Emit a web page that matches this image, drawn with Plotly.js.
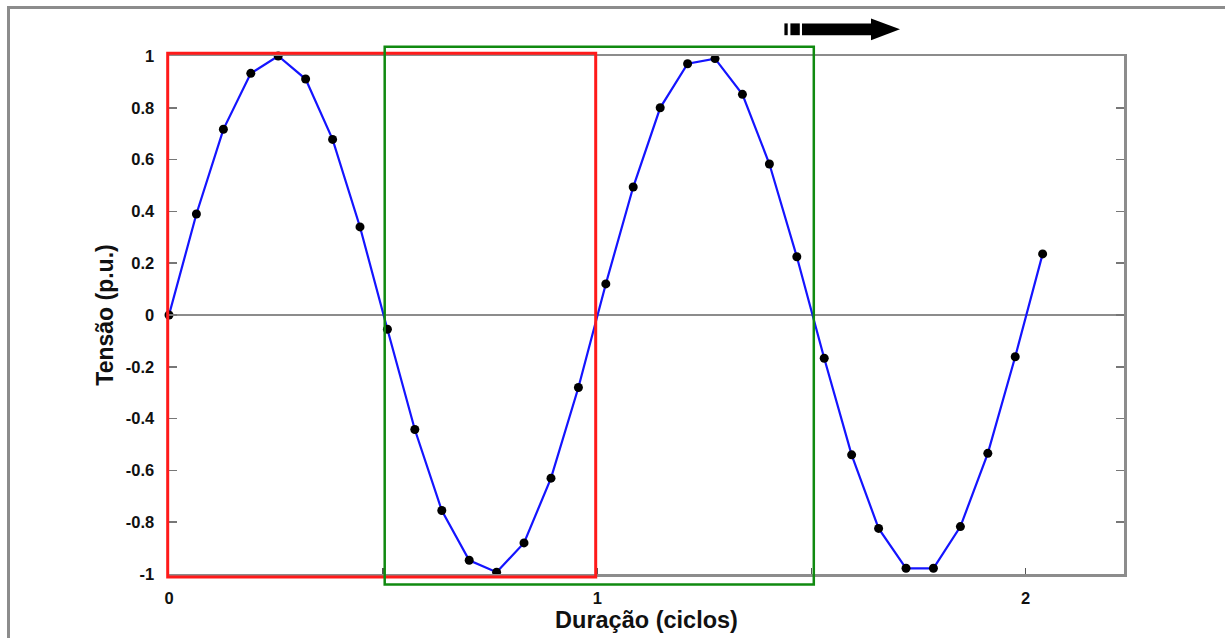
<!DOCTYPE html>
<html>
<head>
<meta charset="utf-8">
<script src="https://cdn.plot.ly/plotly-3.0.1.min.js"></script>
<style>
html,body{margin:0;padding:0;background:#fff;}
#chart{width:1225px;height:638px;}
</style>
</head>
<body>
<div id="chart"></div>
<script>
// Data
const duracao = [0, 0.064, 0.127, 0.191, 0.255, 0.319, 0.382, 0.446, 0.510, 0.574, 0.637,
  0.701, 0.765, 0.829, 0.892, 0.956, 1.020, 1.084, 1.147, 1.211, 1.275, 1.339, 1.402,
  1.466, 1.530, 1.594, 1.657, 1.721, 1.785, 1.848, 1.912, 1.976, 2.040];
const tensao = [0, 0.39, 0.717, 0.933, 1.0, 0.911, 0.678, 0.34, -0.055, -0.442, -0.755,
  -0.947, -0.993, -0.88, -0.63, -0.28, 0.12, 0.494, 0.80, 0.97, 0.99, 0.852, 0.583,
  0.225, -0.167, -0.54, -0.824, -0.978, -0.978, -0.817, -0.534, -0.161, 0.236];
const xTickVals = [0, 1, 2];
const xTickText = ['0', '1', '2'];
const yTickVals = [-1, -0.8, -0.6, -0.4, -0.2, 0, 0.2, 0.4, 0.6, 0.8, 1];
const yTickText = ['-1', '-0.8', '-0.6', '-0.4', '-0.2', '0', '0.2', '0.4', '0.6', '0.8', '1'];

// Layout geometry
const W = 1225, H = 638;
const M = {l: 169, r: 101, t: 56, b: 64};
const xRange = [0, 2.23];
const yRange = [-1, 1];
const plotW = W - M.l - M.r, plotH = H - M.t - M.b;
// pixel -> paper helpers (for decorations outside the plot area)
const px = v => (v - M.l) / plotW;
const py = v => (H - M.b - v) / plotH;

const FONT = 'Liberation Sans, Arial, Helvetica, sans-serif';
const GRAY = '#8c8c8c';

const trace = {
  x: duracao, y: tensao, type: 'scatter', mode: 'lines+markers',
  line: {color: '#1414ff', width: 2.2},
  marker: {color: '#000000', size: 9},
  cliponaxis: false, hoverinfo: 'skip'
};

const shapes = [
  // outer frame (top and left edges)
  {type: 'line', xref: 'paper', yref: 'paper', x0: px(8), x1: px(1230), y0: py(7.5), y1: py(7.5),
   line: {color: GRAY, width: 3}},
  {type: 'line', xref: 'paper', yref: 'paper', x0: px(8.5), x1: px(8.5), y0: py(6), y1: py(645),
   line: {color: GRAY, width: 3}},
  // red window
  {type: 'rect', xref: 'paper', yref: 'paper', x0: px(167.7), x1: px(595.7), y0: py(577), y1: py(53.3),
   line: {color: '#ff1a1a', width: 3}, fillcolor: 'rgba(0,0,0,0)', layer: 'above'},
  // green window
  {type: 'rect', xref: 'paper', yref: 'paper', x0: px(384.7), x1: px(813.8), y0: py(584.5), y1: py(46.8),
   line: {color: '#108a10', width: 2.5}, fillcolor: 'rgba(0,0,0,0)', layer: 'above'},
  // arrow: two dashes, bar and head
  {type: 'rect', xref: 'paper', yref: 'paper', x0: px(784.4), x1: px(787.7), y0: py(35.2), y1: py(23.4),
   line: {width: 0}, fillcolor: '#000'},
  {type: 'rect', xref: 'paper', yref: 'paper', x0: px(790.4), x1: px(799.8), y0: py(35.2), y1: py(23.4),
   line: {width: 0}, fillcolor: '#000'},
  {type: 'rect', xref: 'paper', yref: 'paper', x0: px(802), x1: px(872), y0: py(35.2), y1: py(23.4),
   line: {width: 0}, fillcolor: '#000'},
  {type: 'path', xref: 'paper', yref: 'paper',
   path: 'M ' + px(871) + ' ' + py(18.4) + ' L ' + px(900) + ' ' + py(29.3) + ' L ' + px(871) + ' ' + py(40.2) + ' Z',
   line: {width: 0}, fillcolor: '#000'}
];

const layout = {
  width: W, height: H,
  margin: M,
  paper_bgcolor: '#ffffff', plot_bgcolor: '#ffffff',
  showlegend: false,
  font: {family: FONT, color: '#111'},
  xaxis: {
    range: xRange, fixedrange: true,
    tickmode: 'array', tickvals: xTickVals, ticktext: xTickText,
    ticks: 'inside', ticklen: 6, tickwidth: 1.5, tickcolor: '#555',
    minor: {tickmode: 'array', tickvals: [0.5, 1.5], ticks: 'inside', ticklen: 6, tickwidth: 1.5, tickcolor: '#555', showgrid: false},
    showline: true, linecolor: GRAY, linewidth: 2.5, mirror: true,
    showgrid: false, zeroline: false,
    tickfont: {family: FONT, size: 16.5, weight: 'bold', color: '#111'},
    ticklabelstandoff: 8,
    title: {text: 'Duração (ciclos)', font: {family: FONT, size: 23.5, weight: 'bold', color: '#111'}, standoff: 1}
  },
  yaxis: {
    range: yRange, fixedrange: true,
    tickmode: 'array', tickvals: yTickVals, ticktext: yTickText,
    ticks: 'inside', ticklen: 8, tickwidth: 1.5, tickcolor: '#777',
    showline: true, linecolor: GRAY, linewidth: 2.5, mirror: 'ticks',
    showgrid: false, zeroline: true, zerolinecolor: GRAY, zerolinewidth: 2,
    tickfont: {family: FONT, size: 16.5, weight: 'bold', color: '#111'},
    ticklabelstandoff: 9,
    title: {text: 'Tensão (p.u.)', font: {family: FONT, size: 23, weight: 'bold', color: '#111'}, standoff: 6}
  },
  shapes: shapes
};

Plotly.newPlot('chart', [trace], layout, {displayModeBar: false, staticPlot: true});
</script>
</body>
</html>
